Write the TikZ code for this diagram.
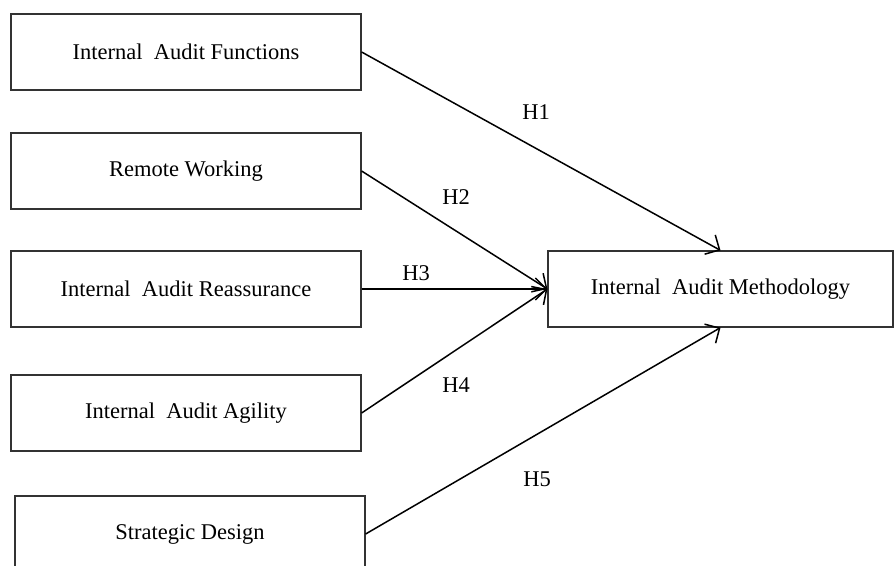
\documentclass[tikz,border=0pt]{standalone}
\usepackage{fontspec}
\setmainfont{Liberation Serif}
\usetikzlibrary{arrows.meta}
\begin{document}
\begin{tikzpicture}[x=1pt,y=-1pt,
  box/.style={draw=black!80,line width=1.2pt,minimum width=350pt,minimum height=76pt,inner sep=0pt,font=\fontsize{22.5}{26}\selectfont},
  link/.style={line width=1.5pt,-{Straight Barb[length=11pt,width=22pt,line width=1.5pt]}},
  lab/.style={font=\fontsize{22.5}{26}\selectfont,inner sep=0pt}]
\useasboundingbox (0,0) rectangle (896,565);
\node[box] (f) at (186,52) {Internal\ \ Audit Functions};
\node[box] (r) at (186,171) {Remote Working};
\node[box] (a) at (186,289) {Internal\ \ Audit Reassurance};
\node[box] (g) at (186,413) {Internal\ \ Audit Agility};
\node[box] (s) at (190,534) {Strategic Design};
\node[box,minimum width=345pt] (m) at (720.5,289) {Internal\ \ Audit Methodology};
\draw[link] (f.east) -- (m.north);
\draw[link] (r.east) -- (m.west);
\draw[link,line width=2pt] (a.east) -- (m.west);
\draw[link] (g.east) -- (m.west);
\draw[link] (s.east) -- (m.south);
\node[lab] (h1) at (536,112) {H1};
\node[lab] (h2) at (456,197) {H2};
\node[lab] (h3) at (416,273) {H3};
\node[lab] (h4) at (456,385) {H4};
\node[lab] (h5) at (537,479) {H5};
\end{tikzpicture}
\end{document}
